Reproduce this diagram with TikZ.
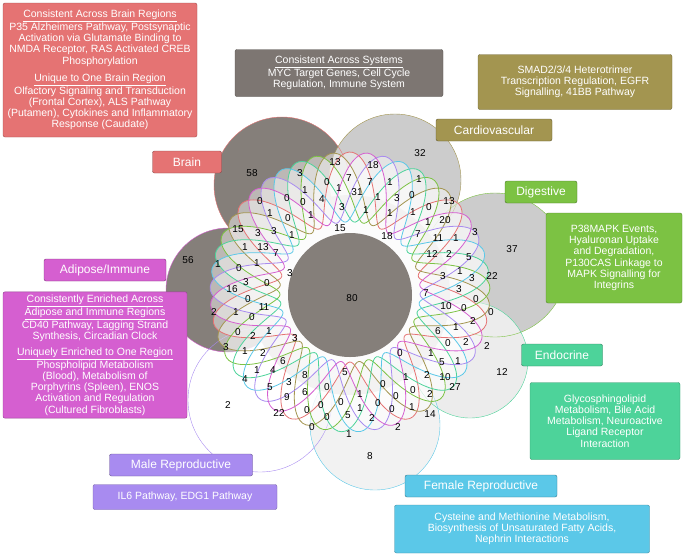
\documentclass[tikz,border=0pt]{standalone}
\usepackage{fontspec}
\setmainfont{Liberation Sans}
\begin{document}
\begin{tikzpicture}[x=1pt,y=-1pt,
  box/.style={draw=#1!70!black, fill=#1, rounded corners=2pt, text=white, align=center, font=\fontsize{10.5}{11.2}\selectfont, inner sep=3pt},
  lab/.style={draw=#1!60!black, fill=#1, rounded corners=2pt, text=white, font=\fontsize{12}{13}\selectfont, inner sep=3pt, minimum height=22pt},
  n/.style={font=\fontsize{10}{10}\selectfont, inner sep=0pt}]
\definecolor{cbrain}{HTML}{E57373}
\definecolor{csys}{HTML}{7D7672}
\definecolor{ccard}{HTML}{A39550}
\definecolor{cdig}{HTML}{7CC243}
\definecolor{cadi}{HTML}{D55FD0}
\definecolor{cendo}{HTML}{4DD39A}
\definecolor{cmale}{HTML}{A88BF0}
\definecolor{cfem}{HTML}{5BC8E8}
\definecolor{dark}{HTML}{857F7A}
\useasboundingbox (0,0) rectangle (685,558);
% lobes
\fill[dark] (282,185) circle (68);
\fill[gray!40] (395,180) circle (66);
\fill[gray!40] (495,265) circle (72);
\fill[gray!15] (470,360) circle (58);
\fill[gray!10] (375,425) circle (65);
\fill[dark] (228,290) circle (62);
\fill[dark] (350,295) circle (100);
\draw[cbrain] (282,185) circle (68);
\draw[ccard] (395,180) circle (66);
\draw[cdig] (495,265) circle (72);
\draw[cendo] (470,360) circle (58);
\draw[cfem] (375,425) circle (65);
\draw[cmale] (260,400) circle (72);
\draw[cadi] (228,290) circle (62);
% wavy set curves
\foreach \c/\p in {cbrain/0,ccard/51,cdig/103,cendo/154,cfem/206,cmale/257,cadi/309}{
  \fill[white, opacity=0.45] plot[domain=0:360, samples=240, smooth] ({350+(105+35*sin(7*\x+\p))*cos(\x)},{292+(105+35*sin(7*\x+\p))*sin(\x)}) -- cycle;
}
\foreach \c/\p in {cbrain/0,ccard/51,cdig/103,cendo/154,cfem/206,cmale/257,cadi/309}{
  \draw[\c, thick] plot[domain=0:360, samples=240, smooth] ({350+(105+35*sin(7*\x+\p))*cos(\x)},{292+(105+35*sin(7*\x+\p))*sin(\x)}) -- cycle;
}
\fill[dark] (350,295) circle (62);
% numbers
\foreach \t/\x/\y in {58/252/173,13/335/162,18/373/165,32/420/153,3/300/173,0/327/182,7/349/178,7/370/182,1/390/182,1/419/179,
1/305/190,1/339/188,31/357/192,0/260/201,0/287/198,0/303/202,4/322/199,1/378/197,3/397/198,0/412/195,13/449/201,
1/270/213,0/288/218,1/311/215,3/342/207,1/366/210,1/390/213,1/413/212,0/429/207,1/428/222,20/445/220,
15/238/229,3/258/233,3/274/231,1/292/235,15/340/228,18/387/236,7/418/234,11/438/238,1/456/238,3/475/232,
1/245/247,13/263/247,7/276/253,12/432/254,2/449/254,5/469/257,37/512/249,1/218/264,0/239/268,1/257/263,3/290/273,
1/460/271,3/472/278,22/492/276,3/443/276,3/246/282,0/267/283,16/232/289,7/426/293,3/459/289,0/476/299,80/352/298,
56/188/260,
0/248/299,11/264/307,2/214/312,1/236/312,0/252/317,10/446/306,0/464/308,0/491/312,2/473/321,0/238/332,2/253/336,
1/269/331,3/295/338,1/456/327,6/438/331,0/400/353,3/226/347,1/245/351,2/263/353,0/448/343,2/466/342,2/487/346,
6/283/361,1/431/353,5/442/362,1/458/361,5/345/372,1/257/370,4/273/370,8/305/375,12/502/372,4/245/379,3/289/382,
0/383/384,1/406/377,2/427/375,10/445/377,27/455/387,5/270/387,0/327/387,1/360/394,0/396/396,0/413/390,2/430/394,
9/287/397,6/305/392,0/341/402,0/378/403,1/412/407,2/228/405,22/279/413,0/307/410,0/321/405,5/348/415,1/360/408,
0/392/409,14/430/414,0/327/417,2/372/418,2/398/427,0/312/427,1/349/434,8/370/456}
  \node[n] at (\x,\y) {\t};
% boxes
\node[box=cbrain, minimum width=194pt, minimum height=134pt] (bbox) at (100,70) {\underline{Consistent Across Brain Regions}\\P35 Alzheimers Pathway, Postsynaptic\\Activation via Glutamate Binding to\\NMDA Receptor, RAS Activated CREB\\Phosphorylation\\[6pt]\underline{Unique to One Brain Region}\\Olfactory Signaling and Transduction\\(Frontal Cortex), ALS Pathway\\(Putamen), Cytokines and Inflammatory\\Response (Caudate)};
\node[box=csys, minimum width=208pt, minimum height=47pt] (sbox) at (339,73) {\underline{Consistent Across Systems}\\MYC Target Genes, Cell Cycle\\Regulation, Immune System};
\node[box=ccard, minimum width=194pt, minimum height=55pt] (cbox) at (575,82) {SMAD2/3/4 Heterotrimer\\Transcription Regulation, EGFR\\Signalling, 41BB Pathway};
\node[box=cdig, minimum width=136pt, minimum height=90pt] (dbox) at (614,258) {P38MAPK Events,\\Hyaluronan Uptake\\and Degradation,\\P130CAS Linkage to\\MAPK Signalling for\\Integrins};
\node[box=cadi, minimum width=184pt, minimum height=110pt] (abox) at (95,355) {\underline{Consistently Enriched Across}\\\underline{Adipose and Immune Regions}\\CD40 Pathway, Lagging Strand\\Synthesis, Circadian Clock\\[5pt]\underline{Uniquely Enriched to One Region}\\Phospholipid Metabolism\\(Blood), Metabolism of\\Porphyrins (Spleen), ENOS\\Activation and Regulation\\(Cultured Fibroblasts)};
\node[box=cendo, minimum width=150pt, minimum height=77pt] (ebox) at (605,421) {Glycosphingolipid\\Metabolism, Bile Acid\\Metabolism, Neuroactive\\Ligand Receptor\\Interaction};
\node[box=cmale, minimum width=184pt, minimum height=25pt] (mbox) at (185,497) {IL6 Pathway, EDG1 Pathway};
\node[box=cfem, minimum width=255pt, minimum height=48pt] (fbox) at (522,529) {Cysteine and Methionine Metabolism,\\Biosynthesis of Unsaturated Fatty Acids,\\Nephrin Interactions};
% labels
\node[lab=cbrain, minimum width=69pt] (lb) at (187,162) {Brain};
\node[lab=ccard, minimum width=116pt] (lc) at (494,130) {Cardiovascular};
\node[lab=cdig, minimum width=72pt] (ld) at (541,192) {Digestive};
\node[lab=cadi, minimum width=122pt] (la) at (105,270) {Adipose/Immune};
\node[lab=cendo, minimum width=81pt] (le) at (562,355) {Endocrine};
\node[lab=cmale, minimum width=143pt] (lm) at (181,465) {Male Reproductive};
\node[lab=cfem, minimum width=152pt] (lf) at (481,486) {Female Reproductive};
\end{tikzpicture}
\end{document}
